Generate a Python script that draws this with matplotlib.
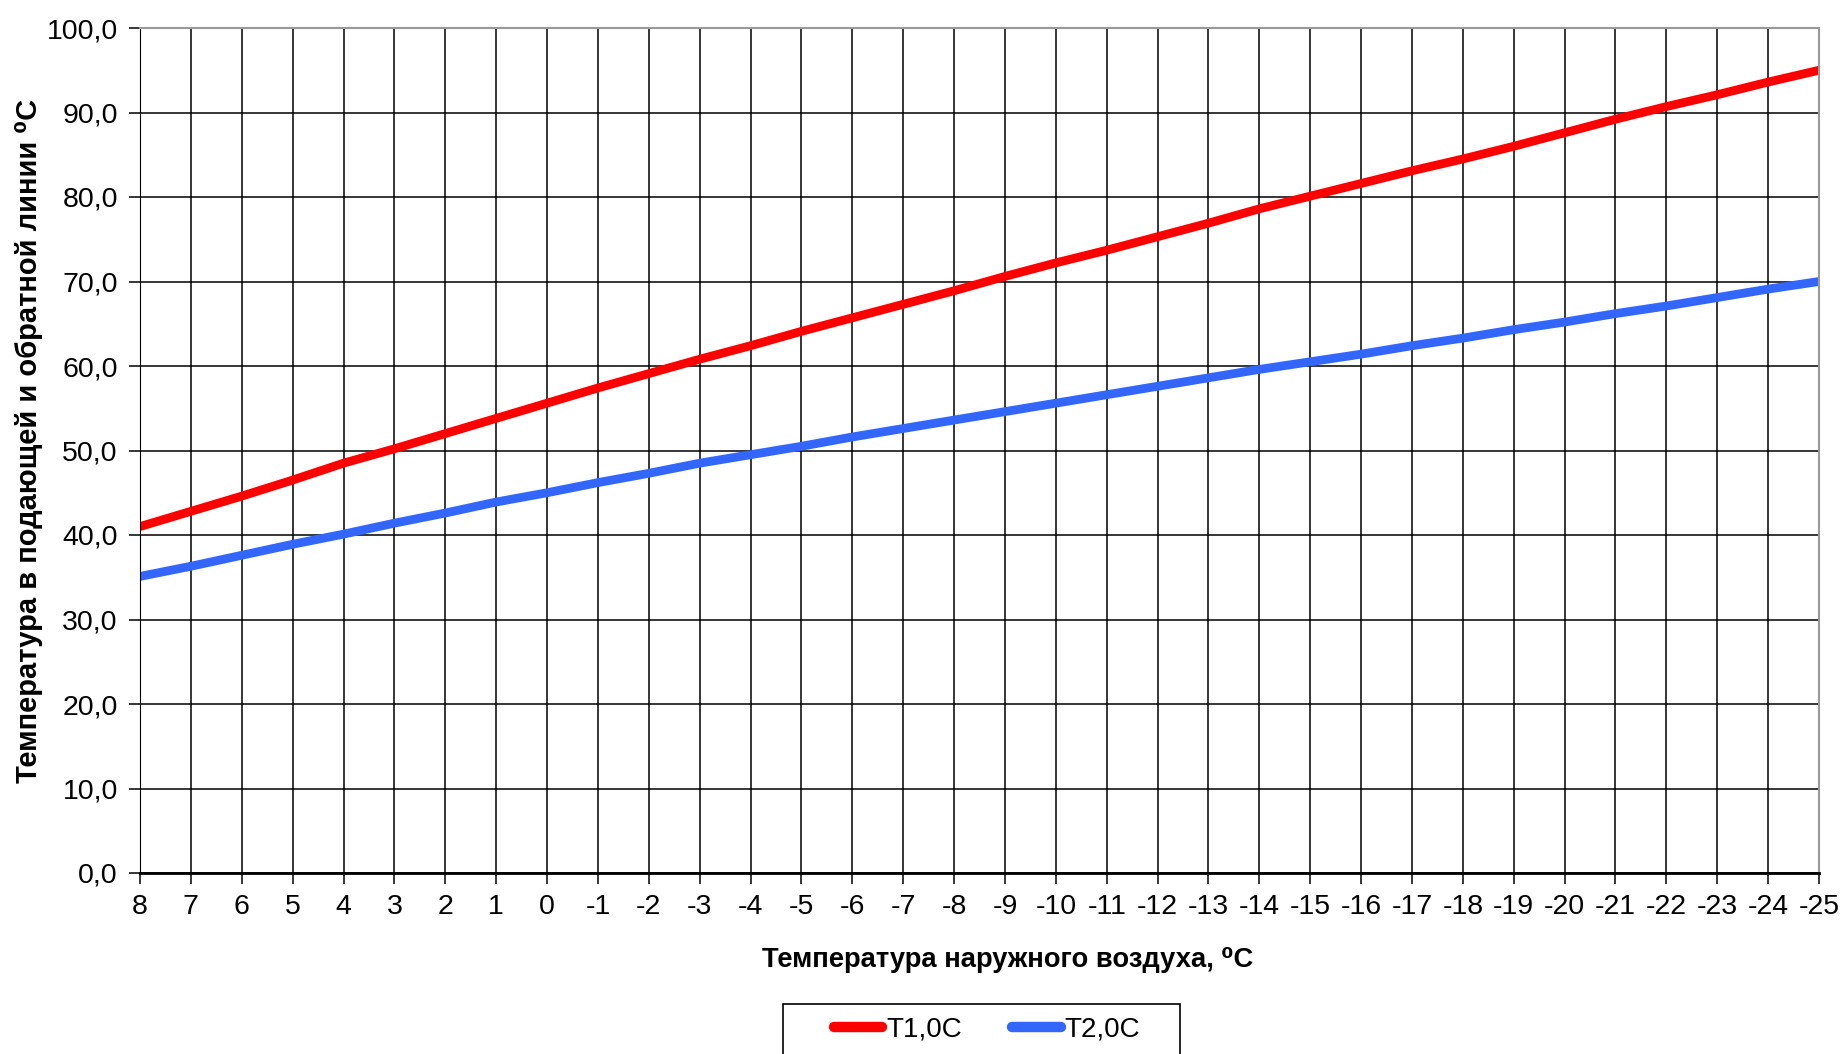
import matplotlib.pyplot as plt
from matplotlib.patches import Rectangle

# Data
outdoor_temp = list(range(8, -26, -1))
t1 = [41.0, 42.8, 44.6, 46.5, 48.5, 50.2, 52.0, 53.8, 55.6, 57.4, 59.1, 60.8,
      62.4, 64.1, 65.7, 67.3, 68.9, 70.6, 72.2, 73.7, 75.3, 76.9, 78.6, 80.1,
      81.6, 83.1, 84.5, 86.0, 87.6, 89.2, 90.7, 92.1, 93.6, 95.0]
t2 = [35.1, 36.3, 37.6, 38.9, 40.1, 41.4, 42.6, 43.9, 45.0, 46.2, 47.3, 48.5,
      49.5, 50.5, 51.6, 52.6, 53.6, 54.6, 55.6, 56.6, 57.6, 58.6, 59.6, 60.5,
      61.4, 62.4, 63.3, 64.3, 65.2, 66.2, 67.1, 68.1, 69.1, 70.0]
y_ticks = list(range(0, 101, 10))

plt.rcParams['font.family'] = ['Liberation Sans', 'DejaVu Sans']

W, H = 1845, 1054
fig = plt.figure(figsize=(W / 100, H / 100), dpi=100)
ax = fig.add_axes([140 / W, 1 - 873 / H, (1819 - 140) / W, (873 - 28) / H])

pos = list(range(len(outdoor_temp)))
ax.plot(pos, t1, color='#ff0000', lw=6.3, label='T1,0C', solid_capstyle='butt')
ax.plot(pos, t2, color='#3366ff', lw=6.3, label='T2,0C', solid_capstyle='butt')

ax.set_xlim(0, len(pos) - 1)
ax.set_ylim(0, 100)
ax.set_xticks(pos)
ax.set_xticklabels([str(v) for v in outdoor_temp])
ax.set_yticks(y_ticks)
ax.set_yticklabels([f"{v:.1f}".replace('.', ',') for v in y_ticks])

ax.grid(True, color='black', lw=1.1)
ax.set_axisbelow(True)
ax.tick_params(axis='both', labelsize=20.5, color='black', length=8, width=1.1)
ax.tick_params(axis='x', pad=7)
ax.tick_params(axis='y', pad=8)

for s in ['top', 'right']:
    ax.spines[s].set_color('#999999')
    ax.spines[s].set_linewidth(1.5)
ax.spines['left'].set_color('black')
ax.spines['bottom'].set_color('black')
ax.spines['bottom'].set_linewidth(2)

ax.set_xlabel('Температура наружного воздуха, ⁰C', fontsize=19.7, fontweight='bold')
ax.xaxis.set_label_coords((1008 - 140) / 1679, -(947 - 873) / 845)
ax.set_ylabel('Температура в подающей и обратной линии ⁰C', fontsize=21, fontweight='bold')
ax.yaxis.set_label_coords(-(140 - 43) / 1679, 1 - (441 - 28) / 845)

leg = fig.legend(loc='center', bbox_to_anchor=(987 / W, 1 - 1030 / H), ncol=2,
                 fontsize=20, frameon=False,
                 handlelength=1.75, handletextpad=0.15, columnspacing=1.8,
                 borderaxespad=0)
for line in leg.get_lines():
    line.set_linewidth(7.5)
    line.set_solid_capstyle('round')

# legend frame
fig.patches.append(Rectangle((783 / W, -0.02), (1180 - 783) / W, (0.02 + 1 - 1004 / H),
                             transform=fig.transFigure, fill=False,
                             edgecolor='black', lw=1.2))

fig.savefig('out.png', dpi=100)
